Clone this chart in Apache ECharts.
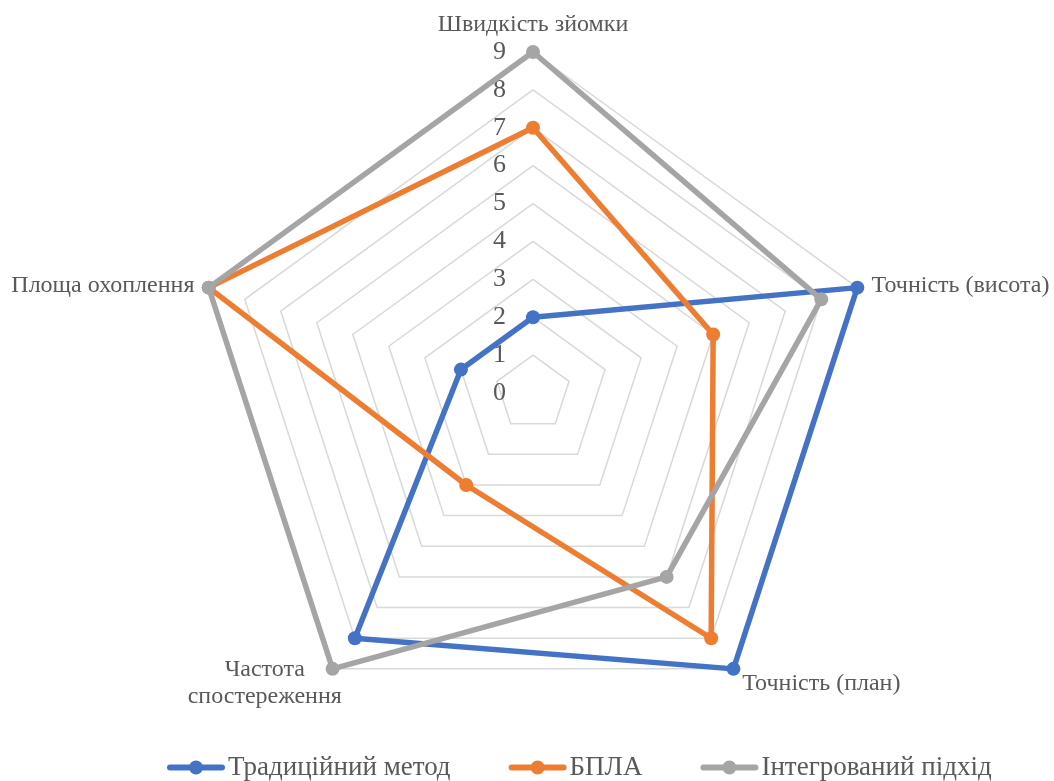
<!DOCTYPE html>
<html>
<head>
<meta charset="utf-8">
<script src="https://cdn.jsdelivr.net/npm/echarts@6/dist/echarts.min.js"></script>
<style>
  html, body { margin: 0; padding: 0; background: #fff; }
  #chart { width: 1054px; height: 781px; }
</style>
</head>
<body>
<div id="chart"></div>
<script>
// Indicators listed counter-clockwise from the top (ECharts radar order)
const indicators = [
  'Швидкість зйомки',
  'Площа охоплення',
  'Частота спостереження',
  'Точність (план)',
  'Точність (висота)'
];
const seriesNames = ['Традиційний метод', 'БПЛА', 'Інтегрований підхід'];
const traditional = [2, 2, 8, 9, 9];
const uav = [7, 9, 3, 8, 5];
const integrated = [9, 9, 9, 6, 8];
const axisMax = 9;

const colors = ['#4472C4', '#ED7D31', '#A5A5A5'];
const textColor = '#595959';
const fontFamily = '"Liberation Serif", "Times New Roman", serif';

// Legend marker: thick line with a dot in the middle
const legendIcon = 'path://M3,4 L55,4 A3,3 0 0 1 55,10 L3,10 A3,3 0 0 1 3,4 Z M36,7 A7,7 0 1 1 22,7 A7,7 0 1 1 36,7 Z';

const chart = echarts.init(document.getElementById('chart'), null, { renderer: 'canvas' });

const values = [traditional, uav, integrated];

chart.setOption({
  backgroundColor: '#ffffff',
  animation: false,
  legend: {
    left: 162,
    top: 749,
    itemWidth: 58,
    itemHeight: 14,
    itemGap: 58,
    icon: legendIcon,
    data: seriesNames.map((n, i) => ({ name: n, itemStyle: { color: colors[i] } })),
    textStyle: { color: textColor, fontFamily, fontSize: 27, padding: [0, 0, 0, -2] }
  },
  radar: {
    center: [533, 393],
    radius: 341,
    startAngle: 90,
    splitNumber: 9,
    shape: 'polygon',
    indicator: indicators.map((name, i) => ({
      name,
      min: 0,
      max: axisMax,
      axisLabel: { show: i === 0 }
    })),
    axisName: {
      color: textColor,
      fontFamily,
      fontSize: 24,
      padding: [5, 0, 0, 0],
      formatter: (name) => name === 'Частота спостереження'
        ? '{c|Частота}\n{c|спостереження}'
        : name,
      rich: {
        c: { width: 118, align: 'center', color: textColor, fontFamily, fontSize: 24, lineHeight: 27 }
      }
    },
    nameGap: 15,
    axisLine: { show: false },
    axisTick: { show: false },
    splitArea: { show: false },
    splitLine: { lineStyle: { color: '#D9D9D9', width: 1.5 } },
    axisLabel: {
      show: false,
      color: textColor,
      fontFamily,
      fontSize: 26,
      margin: 27
    }
  },
  series: seriesNames.map((name, i) => ({
    type: 'radar',
    name,
    symbol: 'circle',
    symbolSize: 14,
    z: 2 + i,
    lineStyle: { color: colors[i], width: 5.5 },
    itemStyle: { color: colors[i] },
    data: [{ name, value: values[i] }]
  }))
});
</script>
</body>
</html>
